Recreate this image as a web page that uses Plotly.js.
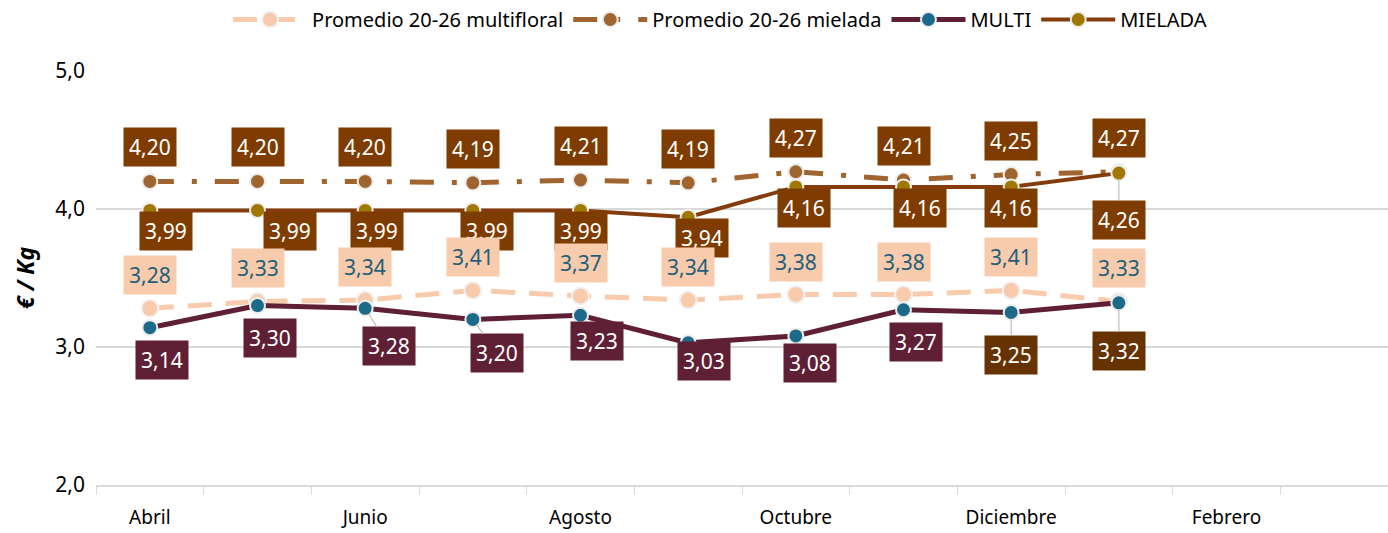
<!DOCTYPE html>
<html><head><meta charset="utf-8">
<script src="https://cdn.plot.ly/plotly-3.0.1.min.js"></script>
<style>html,body{margin:0;padding:0;background:#fff}#chart{width:1388px;height:533px}</style>
</head><body><div id="chart"></div>
<script>
const months = ["Abril","Mayo","Junio","Julio","Agosto","Septiembre","Octubre","Noviembre","Diciembre","Enero","Febrero","Marzo"];
const shownLabels = ["Abril","Junio","Agosto","Octubre","Diciembre","Febrero"];
const dataMonths = months.slice(0, 10);
const promMulti = [3.28,3.33,3.34,3.41,3.37,3.34,3.38,3.38,3.41,3.33];
const promMielada = [4.20,4.20,4.20,4.19,4.21,4.19,4.27,4.21,4.25,4.27];
const multi = [3.14,3.30,3.28,3.20,3.23,3.03,3.08,3.27,3.25,3.32];
const mielada = [3.99,3.99,3.99,3.99,3.99,3.94,4.16,4.16,4.16,4.26];

const FONT = "Noto Sans, sans-serif";
const idx = months.map((m,i)=>i);
const xi = dataMonths.map((m,i)=>i);

const traces = [
  {name:"Promedio 20-26 multifloral", x:xi, y:promMulti, mode:"lines+markers",
   line:{color:"#F8CBAD", width:5, dash:"24px,14px"},
   marker:{color:"#F8CBAD", size:17, line:{color:"#F2F2F2", width:2}}},
  {name:"Promedio 20-26 mielada", x:xi, y:promMielada, mode:"lines+markers",
   line:{color:"#A0652F", width:5, dash:"24px,18px,5px,18px"},
   marker:{color:"#A0652F", size:15, line:{color:"#EDEDED", width:2}}},
  {name:"MULTI", x:xi, y:multi, mode:"lines+markers",
   line:{color:"#5F1F35", width:5},
   marker:{color:"#1B6A8A", size:15, line:{color:"#EDEDED", width:2}}},
  {name:"MIELADA", x:xi, y:mielada, mode:"lines+markers",
   line:{color:"#843C0C", width:4},
   marker:{color:"#A07800", size:15, line:{color:"#EDEDED", width:2}}}
];
traces.forEach(t=>{t.xaxis="x"; t.yaxis="y"; t.cliponaxis=false;});

function fmt(v){return v.toFixed(2).replace(".", ",");}
const ann = [];
function addLabels(vals, opts){
  vals.forEach((v,i)=>{
    const o = (opts.over && opts.over[i]) || {};
    ann.push({x:i, y:v, xref:"x", yref:"y", text:fmt(v),
      showarrow:true, arrowhead:0, arrowwidth:1.2,
      arrowcolor:o.leader ? "#BFBFBF" : "rgba(0,0,0,0)", standoff:7,
      ax:(o.ax!==undefined?o.ax:opts.ax), ay:(o.ay!==undefined?o.ay:opts.ay),
      bgcolor:o.bg||opts.bg, borderpad:5,
      font:{family:FONT, size:21, color:opts.fc}});
  });
}
addLabels(promMielada, {ax:0, ay:-34, bg:"#7F3C00", fc:"#FFFFFF"});
addLabels(mielada, {ax:16, ay:21, bg:"#7F3C00", fc:"#FFFFFF",
  over:{1:{ax:32}, 2:{ax:12}, 3:{ax:14}, 4:{ax:0}, 5:{ax:14}, 6:{ax:8}, 8:{ax:0}, 9:{ax:0, ay:47, leader:true}}});
addLabels(promMulti, {ax:0, ay:-33, bg:"#F8CBAD", fc:"#1F5F7A"});
addLabels(multi, {ax:12, ay:32, bg:"#5F1F35", fc:"#FFFFFF",
  over:{2:{ax:24,ay:38,leader:true}, 3:{ax:24,ay:34,leader:true}, 4:{ax:16,ay:26}, 5:{ax:16,ay:18}, 6:{ax:14,ay:27}, 8:{ax:0,ay:42,bg:"#663300",leader:true}, 9:{ax:0,ay:48,bg:"#663300",leader:true}}});

const layout = {
  width:1388, height:533,
  margin:{l:96, r:0, t:69, b:48},
  paper_bgcolor:"#fff", plot_bgcolor:"#fff",
  separators:",.",
  font:{family:FONT, color:"#000"},
  showlegend:true,
  legend:{orientation:"h", x:0.483, xanchor:"center", y:1.125, yanchor:"middle",
    font:{family:FONT, size:20, color:"#000"}, itemwidth:74, tracegroupgap:0},
  xaxis:{range:[-0.5,11.5], tickvals:shownLabels.map(m=>months.indexOf(m)), ticktext:shownLabels,
    ticks:"outside", ticklen:14, tickcolor:"rgba(0,0,0,0)", showgrid:false, zeroline:false,
    showline:true, linecolor:"#D9D9D9", linewidth:2,
    tickfont:{family:FONT, size:19, color:"#000"}},
  xaxis2:{overlaying:"x", anchor:"y", side:"bottom", range:[-0.5,11.5],
    tickvals:idx.concat([12]).map(i=>i-0.5), ticktext:idx.concat([12]).map(()=>""),
    ticks:"outside", ticklen:9, tickcolor:"#D9D9D9", tickwidth:1, showgrid:false, zeroline:false,
    showticklabels:false},
  yaxis:{range:[2,5], dtick:1, tick0:2, tickformat:".1f", showgrid:true, gridcolor:"#D9D9D9", gridwidth:1.5,
    zeroline:false, showline:false, ticks:"", ticklabelstandoff:10,
    tickfont:{family:FONT, size:21, color:"#000"},
    title:{text:"<b><i>€ / Kg</i></b>", font:{family:FONT, size:23, color:"#000"}, standoff:14}},
  annotations:ann
};
traces.push({x:[0], y:[null], xaxis:"x2", yaxis:"y", showlegend:false, hoverinfo:"skip", mode:"markers"});
Plotly.newPlot("chart", traces, layout, {displayModeBar:false, staticPlot:true});
</script></body></html>
